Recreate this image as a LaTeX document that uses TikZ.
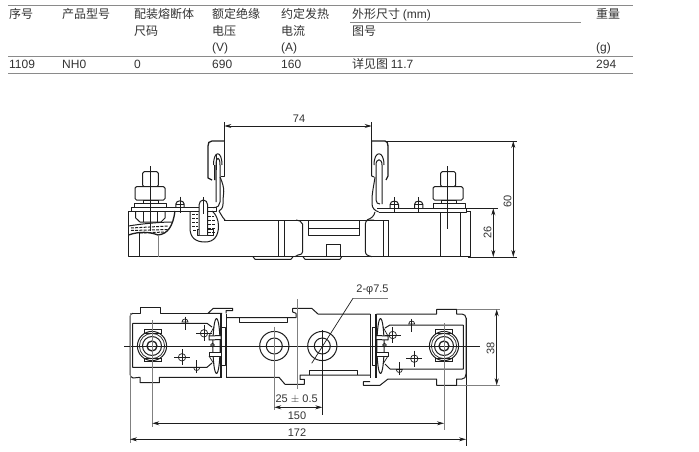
\documentclass[tikz,border=0pt]{standalone}
\usepackage{fontspec}
\setmainfont{Liberation Sans}
\newfontfamily\cjk{Noto Sans CJK SC}
\usetikzlibrary{arrows.meta}
\definecolor{ink}{HTML}{1E1E1E}
\definecolor{txt}{HTML}{333333}
\definecolor{rule}{HTML}{8A8A8A}
\tikzset{
  cell/.style={anchor=base west,inner sep=0pt,text=txt,font=\fontsize{12}{12}\selectfont},
  zh/.style={cell,font=\fontsize{12}{12}\selectfont\cjk},
  tablerule/.style={draw=rule,line width=0.9pt},
  part/.style={draw=ink,line width=1pt,line join=round},
  thin part/.style={draw=ink,line width=0.7pt},
  heavy part/.style={draw=ink,line width=1.3pt,line join=round},
  axis line/.style={draw=ink,line width=0.7pt},
  grey ext/.style={draw=gray,line width=1pt},
  ext/.style={draw=ink,line width=0.8pt},
  dimline/.style={draw=ink,line width=0.8pt,{Stealth[length=7pt,width=4pt]}-{Stealth[length=7pt,width=4pt]}},
  dimtext/.style={inner sep=0pt,text=txt,font=\fontsize{11}{11}\selectfont},
}
\newcommand{\crosshole}[2]{%
  \draw[thin part] (#1,#2) circle (3.7);
  \draw[thin part] (#1-8,#2) -- (#1+8,#2) (#1,#2-8) -- (#1,#2+8);}
% half-round pin in plan: x, flat-side y, sign of the bulge
\newcommand{\halfpin}[3]{%
  \draw[thin part] (#1-3,#2) .. controls (#1-3,#2+#3*4) and (#1+3,#2+#3*4) .. (#1+3,#2) -- cycle;
  \draw[thin part] (#1,#2+#3*5.5) -- (#1,#2-#3*8);}
% small pin on the plate in side view: x, plate-top y
\newcommand{\platepin}[2]{%
  \draw[part] (#1-4.2,#2) -- (#1-4.2,#2-3.5) .. controls (#1-4.2,#2-8) and (#1+4.2,#2-8) .. (#1+4.2,#2-3.5) -- (#1+4.2,#2);
  \draw[thin part] (#1-4.2,#2-3.5) -- (#1+4.2,#2-3.5);
  \draw[thin part] (#1,#2-11) -- (#1,#2+5);}
\newcommand{\clipset}{%
  \draw[part] (216.5,346) ellipse (3.6 and 27.5);
  \draw[part] (221,327) rectangle (225,365);
  \draw[heavy part] (221,313.5) -- (221,378);
  \draw[part] (226.7,313.5) -- (226.7,378);
  \draw[part,fill=white] (209,336) -- (221,335.5) -- (221,339.5) -- (209,340) -- cycle;
  \draw[part,fill=white] (209,352.7) -- (221,352.7) -- (221,356) -- (209,356) -- cycle;
  \draw[thin part] (212.5,345) circle (1.8);
  \draw[thin part] (209,336) -- (214,327) (209,356) -- (214,364);
}
\newcommand{\nutset}{%
  \draw[thin part,fill=white] (144,329.5) rectangle (161,333);
  \draw[thin part,fill=white] (144,358) rectangle (161,361.5);
  \draw[part] (152,346) circle (14.6);
  \draw[thin part] (152,346) circle (12.6);
  \draw[part] (152,346) circle (9.5);
  \draw[heavy part] (152,346) circle (5);
}
\begin{document}
\begin{tikzpicture}[x=1pt,y=-1pt]
\useasboundingbox (0,0) rectangle (699,452);
\fill[white] (0,0) rectangle (699,452);

% ---------- table ----------
\coordinate (tl1) at (8,5);   \coordinate (tr1) at (633,5);
\coordinate (tl2) at (350,22);\coordinate (tr2) at (581,22);
\coordinate (tl3) at (8,56);  \coordinate (tr3) at (633,56);
\coordinate (tl4) at (8,73);  \coordinate (tr4) at (633,73);
\draw[tablerule] (tl1) -- (tr1) (tl2) -- (tr2) (tl3) -- (tr3) (tl4) -- (tr4);
\node[zh] (h1) at (9,18.5) {序号};
\node[zh] (h2) at (62,18.5) {产品型号};
\node[zh] (h3) at (134,18.5) {配装熔断体};
\node[zh] (h3b) at (134,35.5) {尺码};
\node[zh] (h4) at (212,18.5) {额定绝缘};
\node[zh] (h4b) at (212,35.5) {电压};
\node[cell] (h4c) at (212,52) {(V)};
\node[zh] (h5) at (281,18.5) {约定发热};
\node[zh] (h5b) at (281,35.5) {电流};
\node[cell] (h5c) at (281,52) {(A)};
\node[zh] (h6) at (352,18.5) {外形尺寸 {\rmfamily(mm)}};
\node[zh] (h6b) at (352,35.5) {图号};
\node[zh] (h7) at (596,18.5) {重量};
\node[cell] (h7b) at (596,52) {(g)};
\node[cell] (v1) at (9,69) {1109};
\node[cell] (v2) at (62,69) {NH0};
\node[cell] (v3) at (134,69) {0};
\node[cell] (v4) at (212,69) {690};
\node[cell] (v5) at (281,69) {160};
\node[zh] (v6) at (352,69) {详见图 {\rmfamily 11.7}};
\node[cell] (v7) at (596,69) {294};

% ---------- side view ----------
\draw[part] (128.5,211) -- (128.5,256.7) -- (470.7,256.7) -- (470.7,211);
\draw[part] (253,256.7) -- (255,259.3) -- (291,259.3) -- (293,256.7);
\draw[part] (303,256.7) -- (305,259.3) -- (340,259.3) -- (341.7,256.7);
\draw[part] (224,220) -- (359,220) (359,220) -- (365.5,220);
\draw[part] (278.3,220) -- (278.3,256.7) (284,220) -- (284,256.7);
\draw[part] (296,220) -- (300,221) .. controls (302,222) .. (302.5,224) -- (302.5,252) .. controls (302,254) .. (298,255) -- (295,256.7);
\draw[part] (308.3,220) -- (308.3,235) -- (359,235) -- (359,220) (308.3,228.3) -- (359,228.3);
\draw[part] (326,256.7) -- (326,244.3) -- (340.7,244.3) -- (340.7,256.7);
\draw[part] (374,220) -- (368,220) .. controls (366,221) .. (365.3,224) -- (365.3,251) .. controls (366,255) .. (372,256.7);
\draw[part] (383.5,220) -- (383.5,256.7) (388.3,220) -- (388.3,256.7) (365,220) -- (388.3,220);
\draw[part] (440.7,212) -- (440.7,256.7) (460.7,212) -- (460.7,256.7);
% left plate
\draw[part,fill=white] (131.7,207.7) rectangle (216,211);
\draw[part] (128.5,211) -- (190,211);
% left bolt
\draw[part,fill=white,rounded corners=1.5pt] (142.7,171.7) rectangle (158.3,186.7);
\draw[part,fill=white,rounded corners=1.5pt] (135,186.7) rectangle (165,200);
\draw[part] (143,200) rectangle (158,203);
\draw[part] (134,203) rectangle (166,207.7);
\draw[part] (135.7,211) -- (135.7,218) -- (140,222) -- (161,222) -- (165,218) -- (165,211);
\draw[part] (143,211) -- (143,222) (157,211) -- (157,222);
% filled section left
\draw[heavy part] (128.5,235) .. controls (140,231) and (150,232) .. (158,235) .. controls (168,234) and (173,226) .. (175,211);
\draw[part] (128.5,226) .. controls (140,224) and (160,222) .. (172,222);
\draw[part,dash pattern=on 3pt off 1.2pt] (131,228) -- (168,226) (131,230.5) -- (168,229.5) (140,233) -- (165,232);
\draw[part] (139.3,233) -- (139.3,256.7);
\draw[part,draw=gray] (158.3,234.5) -- (158.3,256.7);
\draw[axis line] (150.3,166) -- (150.3,231);
\platepin{180}{207.7}
% pocket
\draw[part] (190,211) -- (190,228) .. controls (190,238) and (196,242) .. (205,242) .. controls (214,242) and (218.5,236) .. (218.5,226) .. controls (218.5,220) and (216,214) .. (212,211);
\draw[part,dash pattern=on 3pt off 1.2pt] (192,214) -- (198,214) (192,218) -- (198,218) (192,222) -- (198,222) (192,226) -- (198,226) (193,230) -- (198,230) (208,216) -- (214,216) (208,220) -- (216,220) (208,224) -- (216,224) (208,228) -- (216,228) (208,232) -- (215,232);
\draw[part] (197,229) rectangle (213,235);
\draw[thin part] (204,229) -- (204,235);
\draw[part,fill=white] (199,235) -- (199,205) .. controls (199,202) and (201,200) .. (203.3,200) .. controls (205.5,200) and (207.7,202) .. (207.7,205) -- (207.7,235);
\draw[thin part] (203.3,197) -- (203.3,214);
% left bracket
\draw[heavy part] (224.3,141) -- (212,141) .. controls (209,141) and (208,143) .. (208,146) -- (208,178) -- (212,180);
\draw[part] (224.3,141) -- (224.3,176) -- (221,176);
\draw[part] (213.5,165) .. controls (213.5,150) and (222,150) .. (222,165) (216,165) .. controls (216,156) and (220,156) .. (220,165);
\draw[part] (214.5,165) -- (214.5,180) (216,165) -- (216,202) (220,165) -- (220,202) .. controls (220,205) and (218,207.7) .. (213,207.7);
\draw[thin part] (216,155) -- (216,170);
\draw[part] (220,177) .. controls (226,190) and (223,195) .. (223,200) -- (223,204) .. controls (223,208) and (221,210) .. (219,211);
\draw[part] (219,211) .. controls (221,214) and (222,217) .. (225,220);
% right bracket
\draw[heavy part] (371.7,141) -- (385,141) .. controls (387,141) and (388,143) .. (388,146) -- (388,176) -- (386,180);
\draw[part] (371.7,141) -- (371.7,176) -- (374,177);
\draw[part] (374,165) .. controls (374,150) and (384,150) .. (384,165);
\draw[part] (376,165) .. controls (376,158) and (382,158) .. (382,165);
\draw[part] (376,165) -- (376,200) .. controls (376,203) and (378,204) .. (380,204) (382,165) -- (382,204);
\draw[part] (375,177) .. controls (374,185) and (372,192) .. (372,200) -- (372,204) .. controls (372,208) and (375,211) .. (379,212);
\draw[part] (375,212) .. controls (374,216) and (372,218) .. (367,220);
% right plate
\draw[part,fill=white] (377,208) -- (466.7,208) -- (466.7,212) -- (379,212);
\draw[part] (466.7,211) -- (470.7,211);
\platepin{394.3}{208}
\platepin{418.7}{208}
% right bolt
\draw[part,fill=white,rounded corners=1.5pt] (440.7,171.7) rectangle (455.7,186.7);
\draw[part,fill=white,rounded corners=1.5pt] (433,186.7) rectangle (463,200);
\draw[part] (441,200) rectangle (456,203);
\draw[part] (433,203) rectangle (465,208);
\draw[axis line] (447.3,166) -- (447.3,229);

% side-view dimensions
\coordinate (d74a) at (224.3,126); \coordinate (d74b) at (371.7,126);
\draw[ext] (224.3,122) -- (224.3,141) (371.7,122) -- (371.7,141);
\draw[dimline] (d74a) -- (d74b);
\node[dimtext] (t74) at (299,119) {74};
\coordinate (d60a) at (513.3,141); \coordinate (d60b) at (513.3,257);
\draw[ext] (386,141) -- (517,141) (468,257) -- (517,257);
\draw[dimline] (d60a) -- (d60b);
\node[dimtext,rotate=90] (t60) at (507.5,201.5) {60};
\coordinate (d26a) at (493.3,208.3); \coordinate (d26b) at (493.3,257);
\draw[ext] (466,208.3) -- (497.7,208.3);
\draw[dimline] (d26a) -- (d26b);
\node[dimtext,rotate=90] (t26) at (487.5,232) {26};

% ---------- plan view ----------
\draw[part] (222,313.3) -- (208,313.3) -- (213.3,308.3) -- (232.7,308.3) -- (232.7,310.7) -- (226,310.7) -- (226,313.3);
\draw[part] (133,313.3) -- (140.7,313.3) -- (140.7,307.3) -- (160.7,307.3) -- (160.7,313.3) -- (208,313.3);
\draw[part] (133,313.3) .. controls (131,313.3) and (130,315) .. (130,317) -- (130,374) .. controls (130,376) and (131,377.3) .. (133,378) -- (140,377.3) -- (140,382.7) -- (159.3,382.7) -- (159.3,377.3) -- (221,377.3);
\draw[part] (132.7,323.3) -- (132.7,367.3) -- (207,367.3) (132.7,323.3) -- (207,323.3) -- (212,327);
\draw[part] (207,367.3) -- (212,363);
% middle piece
\draw[part] (226,317.7) -- (296,317.7) -- (296,313.3) -- (292.7,312) -- (292.7,308.3) -- (311.7,308.3) -- (318,314) -- (370,314);
\draw[part] (239.3,317.7) -- (239.3,322.3) -- (287.3,322.3) -- (287.3,317.7);
\draw[part] (226,377.3) -- (279,377.3) -- (285,384.3) -- (304.3,384.3) -- (304.3,379.3) -- (300,379.3) -- (300,375) -- (370,375);
\draw[part] (309.3,375) -- (309.3,370) -- (357.7,370) -- (357.7,375);
% right plate outline
\draw[part] (376.7,314) -- (436.7,314) -- (436.7,309.3) -- (456.7,309.3) -- (456.7,314) -- (462,314) .. controls (464.5,314) and (466,316) .. (466,318) -- (466,374) .. controls (466,377) and (464.5,379) .. (462,379) -- (456.7,379) -- (456.7,385.3) -- (436.7,385.3) -- (436.7,379) -- (388,379);
\draw[part] (388,379) -- (380,385.3) -- (363.3,385.3) -- (363.3,381.7) -- (370,381.7);
\draw[part] (463.3,325) -- (463.3,369) -- (390,369) (463.3,325) -- (390,325) -- (385,328);
\draw[part] (390,369) -- (385,364);
% clips, left and mirrored right
\begin{scope}
  \clipset
\end{scope}
\begin{scope}[shift={(597,0)},xscale=-1]
  \clipset
\end{scope}
% holes
\draw[part] (274.3,346) circle (14.6);
\draw[part] (274.3,346) circle (8);
\draw[part] (322.3,346) circle (14.6);
\draw[part] (322.3,346) circle (8);
% nuts
\nutset
\begin{scope}[shift={(596,0)},xscale=-1]
  \nutset
\end{scope}
% small holes and pins
\crosshole{204}{333.3}
\crosshole{182}{357.3}
\crosshole{392.7}{335}
\crosshole{414.3}{358.7}
\halfpin{185}{322}{-1}
\halfpin{196.7}{367.5}{1}
\halfpin{411.7}{324}{-1}
\halfpin{399.3}{369.5}{1}
% centre lines
\coordinate (axl) at (124.3,346); \coordinate (axr) at (480,346);
\draw[axis line] (axl) -- (axr);
\draw[axis line,draw=gray] (297.5,299.3) -- (297.5,389.3);

% plan-view dimensions
\draw[grey ext] (130,313) -- (130,443);
\draw[ext] (466,318) -- (466,445.7);
\draw[grey ext] (152.3,320) -- (152.3,426.7);
\draw[ext,draw=gray] (444,323.3) -- (444,430);
\draw[ext,draw=gray] (274.3,326.7) -- (274.3,410);
\draw[ext] (322.3,330) -- (322.3,415);
\draw[ext,draw=gray] (456.7,309.3) -- (500,309.3) (456.7,385.3) -- (500,385.3);
\coordinate (d25a) at (274.3,407.3); \coordinate (d25b) at (322.3,407.3);
\draw[dimline] (d25a) -- (d25b);
\node[dimtext] (t25) at (296.7,399) {25 $\pm$ 0.5};
\coordinate (d150a) at (152.3,423.3); \coordinate (d150b) at (444,423.3);
\draw[dimline] (d150a) -- (d150b);
\node[dimtext] (t150) at (297,416) {150};
\coordinate (d172a) at (130,439.3); \coordinate (d172b) at (466,439.3);
\draw[dimline] (d172a) -- (d172b);
\node[dimtext] (t172) at (297,433) {172};
\coordinate (d38a) at (496.7,309.3); \coordinate (d38b) at (496.7,385.3);
\draw[dimline] (d38a) -- (d38b);
\node[dimtext,rotate=90] (t38) at (490.7,348) {38};
\node[dimtext] (tphi) at (372.5,290) {2-φ7.5};
\coordinate (ldr) at (353,298.3); \coordinate (ldrend) at (311.7,363.3); \coordinate (ldrout) at (387.7,298.3);
\draw[grey ext] (ldr) -- (ldrout);
\draw[axis line] (ldr) -- (ldrend);
\end{tikzpicture}
\end{document}
